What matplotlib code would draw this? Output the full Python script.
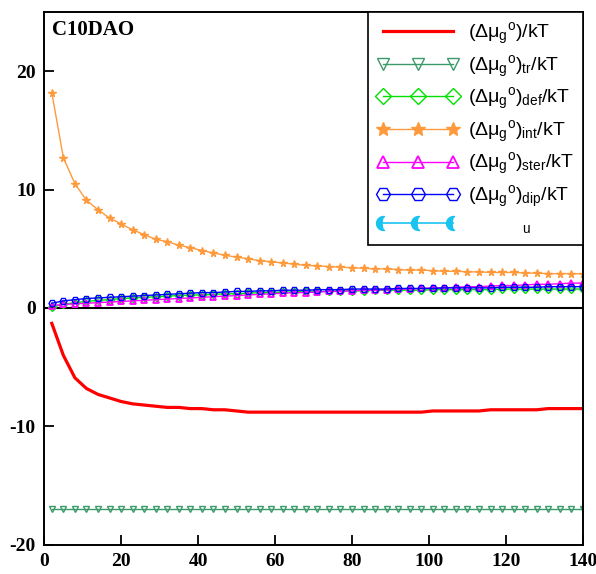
import numpy as np
import matplotlib
matplotlib.use("Agg")
import matplotlib.pyplot as plt
from matplotlib.path import Path

# ---- Data ----
x = list(range(2, 141, 3))   # 2, 5, ..., 140

total = [-1.3, -4.0, -5.9, -6.8, -7.3, -7.6, -7.9, -8.1, -8.2, -8.3,
         -8.4, -8.4, -8.5, -8.5, -8.6, -8.6, -8.7, -8.8, -8.8, -8.8,
         -8.8, -8.8, -8.8, -8.8, -8.8, -8.8, -8.8, -8.8, -8.8, -8.8,
         -8.8, -8.8, -8.8, -8.7, -8.7, -8.7, -8.7, -8.7, -8.6, -8.6,
         -8.6, -8.6, -8.6, -8.5, -8.5, -8.5, -8.5]

tr = [-17.0] * 47

dfm = [0.1, 0.3, 0.45, 0.55, 0.65, 0.7, 0.8, 0.85, 0.9, 0.95,
       1.0, 1.05, 1.1, 1.1, 1.15, 1.2, 1.2, 1.25, 1.3, 1.3,
       1.35, 1.35, 1.4, 1.4, 1.4, 1.45, 1.45, 1.45, 1.5, 1.5,
       1.5, 1.5, 1.5, 1.55, 1.55, 1.55, 1.55, 1.55, 1.55, 1.6,
       1.6, 1.6, 1.6, 1.6, 1.6, 1.6, 1.6]

inter = [18.2, 12.7, 10.5, 9.1, 8.3, 7.6, 7.1, 6.6, 6.2, 5.8,
         5.6, 5.3, 5.1, 4.85, 4.65, 4.45, 4.3, 4.15, 4.0, 3.9,
         3.8, 3.7, 3.6, 3.55, 3.5, 3.45, 3.4, 3.35, 3.3, 3.3,
         3.25, 3.2, 3.2, 3.15, 3.1, 3.1, 3.05, 3.05, 3.0, 3.0,
         3.0, 2.95, 2.95, 2.9, 2.9, 2.9, 2.9]

ster = [0.2, 0.3, 0.35, 0.4, 0.45, 0.5, 0.55, 0.6, 0.65, 0.7,
        0.75, 0.8, 0.85, 0.9, 0.95, 1.0, 1.05, 1.1, 1.15, 1.2,
        1.25, 1.3, 1.3, 1.35, 1.4, 1.4, 1.45, 1.5, 1.5, 1.55,
        1.6, 1.6, 1.65, 1.7, 1.7, 1.75, 1.8, 1.8, 1.85, 1.9,
        1.9, 1.95, 2.0, 2.0, 2.05, 2.1, 2.1]

dip = [0.4, 0.6, 0.7, 0.8, 0.85, 0.9, 0.95, 1.0, 1.05, 1.1,
       1.15, 1.2, 1.25, 1.3, 1.3, 1.35, 1.4, 1.4, 1.45, 1.45,
       1.5, 1.5, 1.5, 1.55, 1.55, 1.55, 1.6, 1.6, 1.6, 1.6,
       1.65, 1.65, 1.65, 1.65, 1.7, 1.7, 1.7, 1.7, 1.7, 1.75,
       1.75, 1.75, 1.75, 1.8, 1.8, 1.8, 1.8]

u_x = []
u_y = []

labels = [r"$\mathregular{(\Delta\mu_g{}^o)/kT}$",
          r"$\mathregular{(\Delta\mu_g{}^o)_{tr}/kT}$",
          r"$\mathregular{(\Delta\mu_g{}^o)_{def}/kT}$",
          r"$\mathregular{(\Delta\mu_g{}^o)_{int}/kT}$",
          r"$\mathregular{(\Delta\mu_g{}^o)_{ster}/kT}$",
          r"$\mathregular{(\Delta\mu_g{}^o)_{dip}/kT}$",
          r"$\mathregular{\qquad\quad\ _u}$"]

# ---- Style ----
plt.rcParams["mathtext.fontset"] = "custom"
plt.rcParams["mathtext.rm"] = "Liberation Sans"
plt.rcParams["mathtext.it"] = "Liberation Sans"
plt.rcParams["mathtext.bf"] = "Liberation Sans:bold"
plt.rcParams["axes.unicode_minus"] = False

# crescent marker for the cyan series
t = np.linspace(np.pi / 2, 3 * np.pi / 2, 20)
outer = np.column_stack([np.cos(t), np.sin(t)])
inner = np.column_stack([0.35 * np.cos(t[::-1]) + 0.15, np.sin(t[::-1])])
crescent = Path(np.vstack([outer, inner, outer[:1]]), closed=True)

fig = plt.figure(figsize=(5.96, 5.74), dpi=100)
ax = fig.add_axes([0.074, 0.051, 0.904, 0.928])

ms = 4.5
h0, = ax.plot(x, total, color="#ff0000", lw=2.3)
h1, = ax.plot(x, tr, color="#3a9a6a", lw=1, marker="v", ms=ms,
              mfc="none", mew=1)
h2, = ax.plot(x, dfm, color="#00e000", lw=1, marker="D", ms=ms - 0.5,
              mfc="none", mew=1)
h4, = ax.plot(x, ster, color="#ff00ff", lw=1, marker="^", ms=ms,
              mfc="none", mew=1.3)
h5, = ax.plot(x, dip, color="#0000ff", lw=1, marker="H", ms=ms + 0.5,
              mfc="none", mew=1)
h3, = ax.plot(x, inter, color="#ff9a3c", lw=1, marker="*", ms=ms + 0.8)
h6, = ax.plot(u_x, u_y, color="#19c3f0", lw=1.2, marker=crescent, ms=5)

ax.axhline(0, color="black", lw=1.5, zorder=1)

ax.set_xlim(0, 140)
ax.set_ylim(-20, 25)
ax.set_xticks([0, 20, 40, 60, 80, 100, 120, 140])
ax.set_yticks([-20, -10, 0, 10, 20])
ax.tick_params(direction="in", length=7, width=1.3, top=False, right=False,
               pad=6)
for lab in ax.get_xticklabels() + ax.get_yticklabels():
    lab.set_fontfamily("Liberation Serif")
    lab.set_fontweight("bold")
    lab.set_fontsize(14)
for s in ax.spines.values():
    s.set_linewidth(1.4)

ax.text(0.015, 0.985, "C10DAO", transform=ax.transAxes, ha="left", va="top",
        fontsize=15, fontweight="bold", family="Liberation Serif")

leg = ax.legend([h0, h1, h2, h3, h4, h5, h6], labels, loc="upper right",
                bbox_to_anchor=(1.0, 1.0), borderaxespad=0, fancybox=False,
                edgecolor="black", framealpha=1, numpoints=3, markerscale=2,
                handlelength=4.2, handletextpad=0.5, labelspacing=0.33,
                borderpad=0.45, prop={"family": "Liberation Sans", "size": 14})
leg.get_frame().set_linewidth(1.2)

fig.savefig("out.png", dpi=100)
